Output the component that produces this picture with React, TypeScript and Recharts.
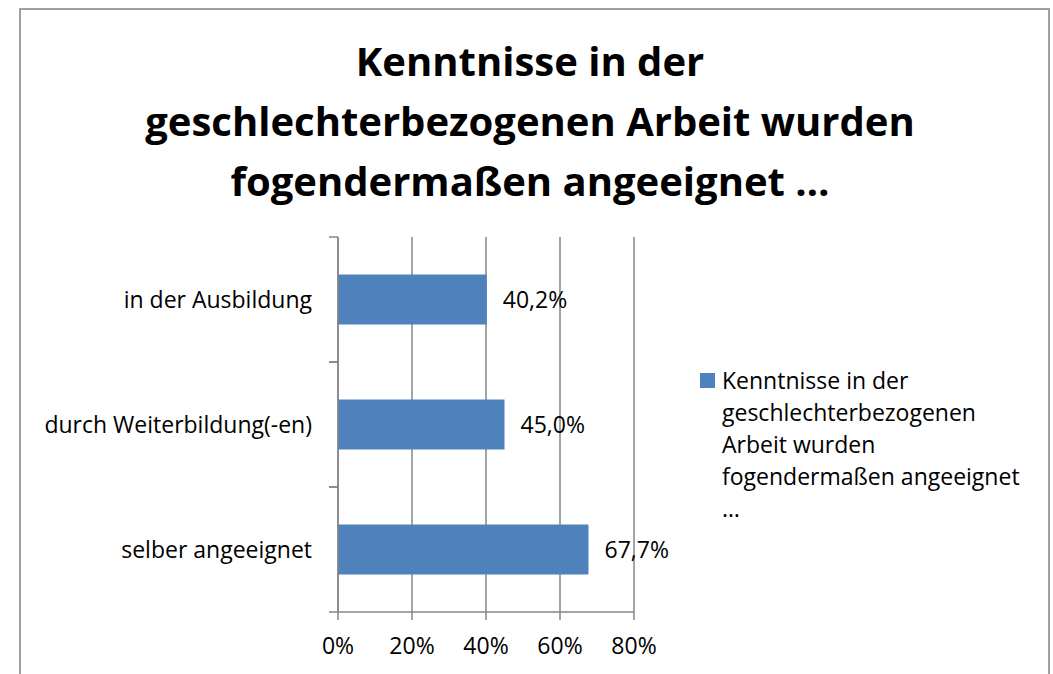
import React from 'react';
import { BarChart, Bar, XAxis, YAxis, CartesianGrid, LabelList } from 'recharts';

const categories = ['in der Ausbildung', 'durch Weiterbildung(-en)', 'selber angeeignet'];
const values = [40.2, 45.0, 67.7];
const xTicks = [0, 20, 40, 60, 80];
const seriesName = 'Kenntnisse in der geschlechterbezogenen Arbeit wurden fogendermaßen angeeignet …';
const titleLines = ['Kenntnisse in der', 'geschlechterbezogenen Arbeit wurden', 'fogendermaßen angeeignet …'];
const legendLines = ['Kenntnisse in der', 'geschlechterbezogenen', 'Arbeit wurden', 'fogendermaßen angeeignet', '…'];

const data = categories.map((name, i) => ({ name, value: values[i] }));

const FONT = '"Open Sans", "Noto Sans", sans-serif';
const BLUE = '#4F81BD';
const GRID = '#868686';
const LABEL_GAP = 26;
const TICK_LEN = 9;

const fmtPct = (v: number) => `${v.toFixed(1).replace('.', ',')}%`;

// category label plus Excel-style tick marks on the band boundaries
const CategoryTick = (props: any) => {
  const { x, y, payload } = props;
  const axisX = x + LABEL_GAP;
  const half = payload.offset || 0;
  return (
    <g>
      <line x1={axisX - TICK_LEN} x2={axisX} y1={y - half} y2={y - half} stroke={GRID} strokeWidth={1.5} />
      <line x1={axisX - TICK_LEN} x2={axisX} y1={y + half} y2={y + half} stroke={GRID} strokeWidth={1.5} />
      <text x={x} y={y} dy="0.355em" textAnchor="end" fill="#000" fontSize={23} fontFamily={FONT}>
        {payload.value}
      </text>
    </g>
  );
};

const App = () => {
  return (
    <div style={{ position: 'absolute', left: 0, top: 0, width: 1053, height: 674, background: '#fff', overflow: 'hidden', fontFamily: FONT }}>
      {/* chart frame */}
      <div style={{ position: 'absolute', left: 19, top: 8, width: 1031, height: 680, border: '2px solid #a0a0a0', boxSizing: 'border-box' }} />

      {/* title */}
      <div style={{ position: 'absolute', left: 30, width: 1000, top: 31, textAlign: 'center', fontWeight: 700, fontSize: 40, lineHeight: '60px', color: '#000' }}>
        {titleLines.map((t) => <div key={t}>{t}</div>)}
      </div>

      <div style={{ position: 'absolute', left: 0, top: 0 }}>
        <BarChart
          width={1053}
          height={674}
          data={data}
          layout="vertical"
          barCategoryGap="30%"
          margin={{ top: 237, right: 419, bottom: 12, left: 8 }}
        >
          <CartesianGrid horizontal={false} vertical={true} stroke={GRID} strokeWidth={1.5} />
          <XAxis
            type="number"
            domain={[0, 80]}
            ticks={xTicks}
            tickFormatter={(v) => `${v}%`}
            height={50}
            tickSize={8}
            tickMargin={18}
            axisLine={{ stroke: GRID, strokeWidth: 1.5 }}
            tickLine={{ stroke: GRID, strokeWidth: 1.5 }}
            tick={{ fill: '#000', fontSize: 23, fontFamily: FONT }}
          />
          <YAxis
            type="category"
            dataKey="name"
            width={330}
            axisLine={{ stroke: GRID, strokeWidth: 1.5 }}
            tickLine={false}
            tickSize={0}
            tickMargin={LABEL_GAP}
            tick={<CategoryTick />}
          />
          <Bar dataKey="value" name={seriesName} fill={BLUE} isAnimationActive={false}>
            <LabelList dataKey="value" position="right" offset={16} formatter={(v: any) => fmtPct(Number(v))} fill="#000" fontSize={23} fontFamily={FONT} />
          </Bar>
        </BarChart>
      </div>

      {/* legend */}
      <div style={{ position: 'absolute', left: 700, top: 364, fontSize: 23, lineHeight: '32px', color: '#000' }}>
        <div style={{ position: 'absolute', left: 0, top: 9, width: 15, height: 15, background: BLUE }} />
        <div style={{ marginLeft: 22, whiteSpace: 'nowrap' }}>
          {legendLines.map((t) => <div key={t}>{t}</div>)}
        </div>
      </div>
    </div>
  );
};

export default App;
